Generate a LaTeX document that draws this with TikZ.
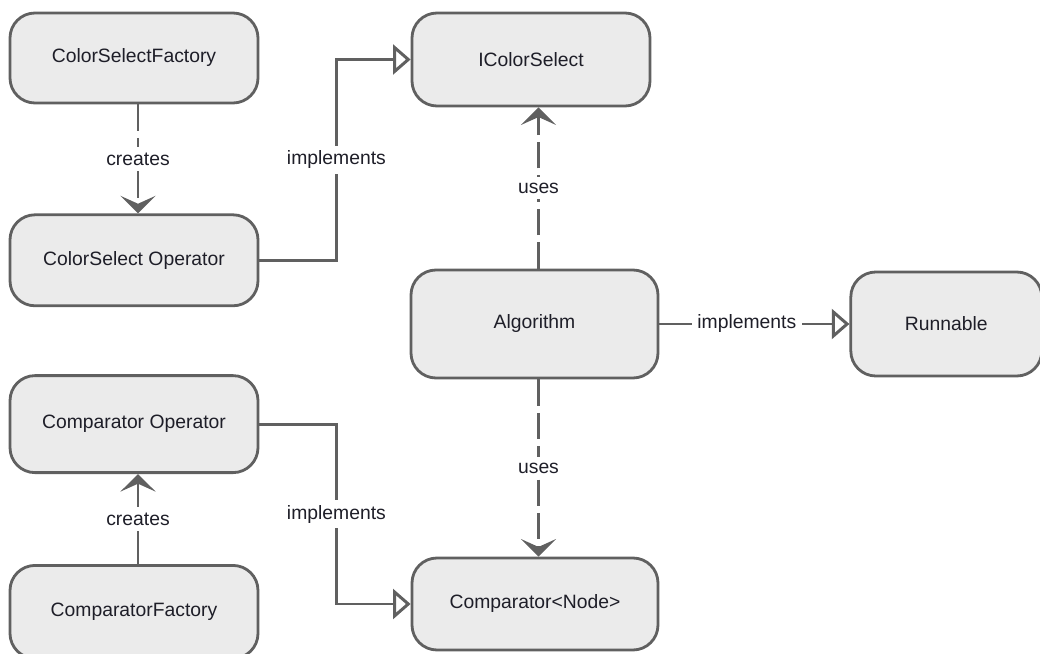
\documentclass[tikz,border=0pt]{standalone}
\usepackage{fontspec}
\setmainfont{Liberation Sans}
\usetikzlibrary{arrows.meta, positioning}
\definecolor{boxfill}{HTML}{EBEBEB}
\definecolor{linegray}{HTML}{606060}
\definecolor{textdark}{HTML}{1E1E28}
\tikzset{
    block/.style={rectangle, rounded corners=0.5cm, draw=linegray, line width=1.6pt, fill=boxfill, text=textdark, text centered, minimum width=4.96cm, minimum height=1.84cm, font=\fontsize{11}{13}\selectfont},
    conn/.style={line width=1.7pt, draw=linegray},
    realizes/.style={conn, -{Triangle[length=10pt, width=17pt, fill=white]}},
    dep/.style={conn, dash pattern=on 15pt off 4pt, -{Stealth[length=10pt, width=20pt, inset=4.5pt]}},
    create/.style={conn, -{Stealth[length=10pt, width=20pt, inset=4.5pt]}},
    lbl/.style={fill=white, text=textdark, inner sep=3pt, font=\fontsize{11}{13}\selectfont}
}

\begin{document}
\begin{tikzpicture}[node distance=1cm]
    \useasboundingbox (0,0) rectangle (20.8,-13.08);

    \node (csfactory) [block, minimum height=1.8cm] at (2.68,-1.16) {ColorSelectFactory};
    \node (csoperator) [block, minimum height=1.82cm, below=2.18cm of csfactory] {ColorSelect Operator};
    \node (cmpop) [block, minimum height=1.94cm, below=1.34cm of csoperator] {Comparator Operator};
    \node (cmpfactory) [block, minimum height=1.86cm, below=1.8cm of cmpop] {ComparatorFactory};

    \node (icolor) [block, minimum width=4.76cm, minimum height=1.86cm] at (10.62,-1.19) {IColorSelect};
    \node (algo) [block, minimum width=4.94cm, minimum height=2.16cm] at (10.69,-6.48) {Algorithm};
    \node (runnable) [block, minimum width=3.82cm, minimum height=2.08cm, right=3.8cm of algo] {Runnable};
    \node (cmpnode) [block, minimum width=4.92cm] at (10.70,-12.08) {Comparator<Node>};

    \draw [dep] ([xshift=0.08cm]csfactory.south) -- node[lbl] {creates} ([xshift=0.08cm]csoperator.north);
    \draw [realizes] (csoperator.east) -- ++(1.54,0) |- node[lbl, pos=0.25] {implements} (icolor.west);
    \draw [dep] ([xshift=0.08cm]algo.north) -- node[lbl] {uses} ([xshift=0.08cm]algo.north |- icolor.south);
    \draw [realizes] (algo) -- node[lbl, pos=0.46] {implements} (runnable);
    \draw [dep] ([xshift=0.08cm]algo.south) -- node[lbl] {uses} ([xshift=0.08cm]algo.south |- cmpnode.north);
    \draw [realizes] (cmpop.east) -- ++(1.54,0) |- node[lbl, pos=0.25] {implements} (cmpnode.west);
    \draw [create] ([xshift=0.08cm]cmpfactory.north) -- node[lbl] {creates} ([xshift=0.08cm]cmpop.south);
\end{tikzpicture}
\end{document}
